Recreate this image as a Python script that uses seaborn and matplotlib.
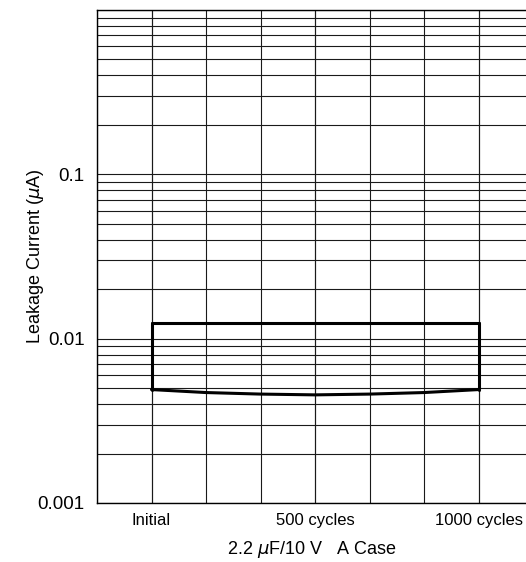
import numpy as np
import pandas as pd
import seaborn as sns
import matplotlib.pyplot as plt
from matplotlib.ticker import LogLocator, FixedLocator, NullFormatter

sns.set_style("white")
plt.rcParams["font.family"] = ["Liberation Sans", "DejaVu Sans"]
plt.rcParams["text.color"] = "black"
plt.rcParams["axes.labelcolor"] = "black"
plt.rcParams["xtick.color"] = "black"
plt.rcParams["ytick.color"] = "black"

# values
cycles = [0, 167, 333, 500, 667, 833, 1000]
upper = [0.0125, 0.0125, 0.0125, 0.0125, 0.0125, 0.0125, 0.0125]
lower = [0.0049, 0.0047, 0.0046, 0.00455, 0.0046, 0.0047, 0.0049]
tick_pos = [0, 500, 1000]
tick_labels = ["Initial", "500 cycles", "1000 cycles"]

df = pd.DataFrame({"cycles": cycles + cycles,
                   "current": upper + lower,
                   "band": ["max"] * len(cycles) + ["min"] * len(cycles)})

fig = plt.figure(figsize=(5.26, 5.62), dpi=100)
ax = fig.add_axes([97 / 526, 1 - 503 / 562, 1 - 97 / 526, (503 - 10) / 562])

ax.set_yscale("log")
ax.set_ylim(0.001, 1.0)
ax.set_xlim(-166.7, 1145)

# grid
ax.yaxis.set_major_locator(FixedLocator([0.001, 0.01, 0.1]))
ax.yaxis.set_minor_locator(LogLocator(base=10, subs=np.arange(2, 11)))
ax.yaxis.set_minor_formatter(NullFormatter())
ax.xaxis.set_major_locator(FixedLocator(tick_pos))
ax.xaxis.set_minor_locator(FixedLocator(np.arange(-166.7, 1200, 1000 / 6)))
ax.grid(True, which="both", axis="both", color="#1a1a1a", linewidth=0.8)
ax.set_axisbelow(True)

sns.lineplot(data=df, x="cycles", y="current", units="band", estimator=None,
             color="black", linewidth=2.2, ax=ax, legend=False)
for i in (0, -1):
    ax.plot([cycles[i], cycles[i]], [lower[i], upper[i]], color="black", lw=2.2)

ax.set_xticklabels(tick_labels, fontsize=12)
ax.set_yticklabels(["0.001", "0.01", "0.1"], fontsize=13.5)
ax.tick_params(axis="x", which="both", length=0, pad=7)
ax.tick_params(axis="y", which="both", length=0, pad=9)
ax.set_xlabel("2.2 $\\mu$F/10 V   A Case", fontsize=13, labelpad=8)
ax.set_ylabel("Leakage Current ($\\mu$A)", fontsize=13, labelpad=-6)

for s in ("left", "bottom", "top"):
    ax.spines[s].set_color("black")
    ax.spines[s].set_linewidth(1.0)
ax.spines["right"].set_visible(False)

fig.savefig("out.png", dpi=100)
